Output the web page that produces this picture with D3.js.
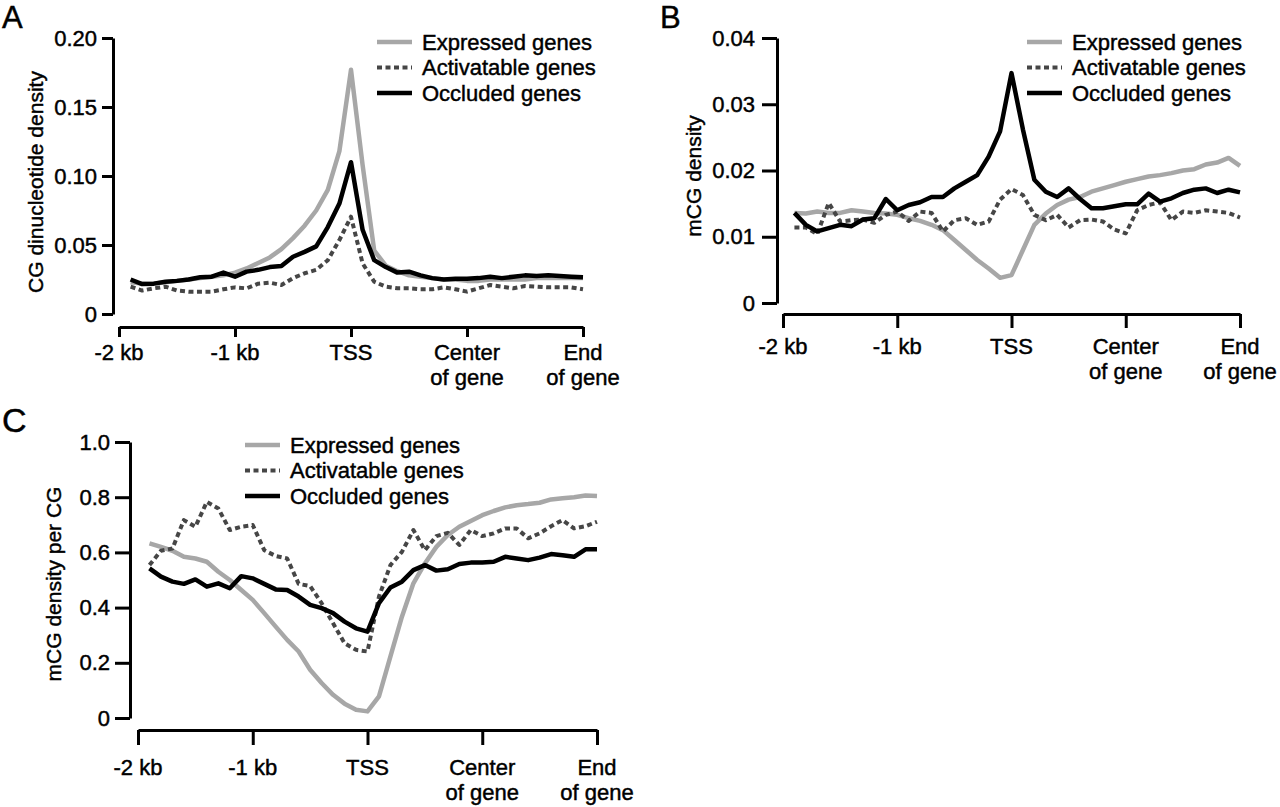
<!DOCTYPE html>
<html>
<head>
<meta charset="utf-8">
<script src="https://cdn.jsdelivr.net/npm/d3@7"></script>
<style>
  body { margin: 0; background: #fff; }
  svg { display: block; font-family: "Liberation Sans", Arial, sans-serif; }
  text { stroke: #000; stroke-width: 0.45px; }
</style>
</head>
<body>
<div id="chart"></div>
<script>
// positions along the meta-gene: -2 kb .. TSS (0) .. center of gene (1) .. end of gene (2)
const positions = [-1.9, -1.8, -1.7, -1.6, -1.5, -1.4, -1.3, -1.2, -1.1, -1.0,
  -0.9, -0.8, -0.7, -0.6, -0.5, -0.4, -0.3, -0.2, -0.1, 0.0,
  0.1, 0.2, 0.3, 0.4, 0.5, 0.6, 0.7, 0.8, 0.9, 1.0,
  1.1, 1.2, 1.3, 1.4, 1.5, 1.6, 1.7, 1.8, 1.9, 2.0];

const xTickValues = [-2, -1, 0, 1, 2];
const xTickLabels = [["-2 kb"], ["-1 kb"], ["TSS"], ["Center", "of gene"], ["End", "of gene"]];

const seriesNames = ["Expressed genes", "Activatable genes", "Occluded genes"];

// A: CG dinucleotide density
const cgExpressed = [0.023, 0.022, 0.022, 0.023, 0.024, 0.025, 0.026, 0.027, 0.028, 0.030,
  0.033, 0.037, 0.041, 0.047, 0.055, 0.064, 0.075, 0.090, 0.118, 0.177,
  0.108, 0.046, 0.035, 0.031, 0.028, 0.027, 0.026, 0.025, 0.025, 0.024,
  0.024, 0.025, 0.025, 0.025, 0.025, 0.026, 0.026, 0.026, 0.026, 0.026];
const cgActivatable = [0.0198, 0.017, 0.0186, 0.0198, 0.017, 0.0162, 0.0162, 0.0162, 0.0179, 0.0193,
  0.0186, 0.022, 0.0227, 0.021, 0.026, 0.0295, 0.032, 0.039, 0.0536, 0.0705,
  0.0367, 0.0234, 0.0198, 0.0186, 0.0186, 0.0179, 0.0179, 0.0193, 0.0179, 0.0162,
  0.0186, 0.021, 0.0198, 0.0186, 0.0203, 0.0198, 0.0193, 0.0193, 0.0193, 0.0179];
const cgOccluded = [0.025, 0.0217, 0.022, 0.0234, 0.024, 0.025, 0.0266, 0.027, 0.030, 0.027,
  0.0307, 0.032, 0.034, 0.0348, 0.0415, 0.045, 0.049, 0.063, 0.080, 0.110,
  0.061, 0.039, 0.034, 0.030, 0.0307, 0.028, 0.026, 0.025, 0.0256, 0.0256,
  0.026, 0.027, 0.026, 0.027, 0.028, 0.0275, 0.028, 0.0275, 0.027, 0.0266];
const cgTickValues = [0, 0.05, 0.10, 0.15, 0.20];
const cgTickLabels = ["0", "0.05", "0.10", "0.15", "0.20"];

// B: mCG density
const mcgExpressed = [0.0136, 0.0135, 0.0138, 0.0136, 0.0136, 0.014, 0.0138, 0.0136, 0.0135, 0.0133,
  0.0128, 0.0124, 0.0118, 0.011, 0.0095, 0.008, 0.0065, 0.0052, 0.0038, 0.0042,
  0.008, 0.0118, 0.0135, 0.0148, 0.0156, 0.016, 0.0168, 0.0173, 0.0178, 0.0183,
  0.0187, 0.0191, 0.0193, 0.0196, 0.020, 0.0202, 0.0209, 0.0212, 0.0219, 0.0207];
const mcgActivatable = [0.0114, 0.0114, 0.0104, 0.0151, 0.0123, 0.0125, 0.0126, 0.0121, 0.0133, 0.0138,
  0.0124, 0.0138, 0.0136, 0.0108, 0.0125, 0.0128, 0.0118, 0.0123, 0.0156, 0.0172,
  0.0163, 0.0133, 0.0125, 0.0133, 0.0114, 0.0125, 0.0126, 0.0123, 0.0111, 0.0105,
  0.014, 0.0148, 0.0152, 0.0125, 0.0138, 0.0136, 0.014, 0.0138, 0.0136, 0.0129];
const mcgOccluded = [0.0136, 0.0118, 0.0108, 0.0113, 0.0118, 0.0116, 0.0126, 0.0128, 0.0157, 0.014,
  0.0148, 0.0152, 0.016, 0.016, 0.0173, 0.0183, 0.0193, 0.0221, 0.0259, 0.0347,
  0.0262, 0.0186, 0.0168, 0.016, 0.0173, 0.0157, 0.0143, 0.0143, 0.0146, 0.0149,
  0.0149, 0.0165, 0.0153, 0.0158, 0.0166, 0.0171, 0.0173, 0.0166, 0.0171, 0.0167];
const mcgTickValues = [0, 0.01, 0.02, 0.03, 0.04];
const mcgTickLabels = ["0", "0.01", "0.02", "0.03", "0.04"];

// C: mCG density per CG
const ratioExpressed = [0.633, 0.62, 0.606, 0.584, 0.578, 0.566, 0.53, 0.50, 0.464, 0.428,
  0.38, 0.331, 0.283, 0.241, 0.175, 0.127, 0.084, 0.052, 0.030, 0.024,
  0.078, 0.223, 0.367, 0.488, 0.56, 0.62, 0.663, 0.693, 0.714, 0.735,
  0.75, 0.763, 0.771, 0.775, 0.78, 0.792, 0.796, 0.80, 0.806, 0.804];
const ratioActivatable = [0.554, 0.606, 0.614, 0.717, 0.693, 0.783, 0.759, 0.681, 0.693, 0.699,
  0.608, 0.587, 0.578, 0.486, 0.478, 0.416, 0.343, 0.271, 0.247, 0.241,
  0.44, 0.554, 0.602, 0.681, 0.608, 0.659, 0.671, 0.627, 0.681, 0.659,
  0.669, 0.687, 0.687, 0.651, 0.669, 0.695, 0.717, 0.687, 0.695, 0.711];
const ratioOccluded = [0.542, 0.512, 0.494, 0.486, 0.502, 0.476, 0.488, 0.47, 0.514, 0.506,
  0.486, 0.466, 0.464, 0.44, 0.41, 0.398, 0.38, 0.349, 0.325, 0.313,
  0.416, 0.473, 0.494, 0.536, 0.554, 0.534, 0.539, 0.558, 0.563, 0.563,
  0.566, 0.584, 0.578, 0.572, 0.581, 0.594, 0.59, 0.584, 0.611, 0.611];
const ratioTickValues = [0, 0.2, 0.4, 0.6, 0.8, 1.0];
const ratioTickLabels = ["0", "0.2", "0.4", "0.6", "0.8", "1.0"];

const lineStyles = [
  { color: "#a7a7a7", width: 4.5, dash: null },
  { color: "#464646", width: 4, dash: "5,3.5" },
  { color: "#000000", width: 4.5, dash: null }
];

const panels = [
  { letter: "A", letterX: 2, letterY: 28, letterSize: 31,
    x0: 119, x1: 583, xAxisY: 327, xTick: 10, xLabelDy: 33,
    yAxisX: 113, yTop: 38, yBottom: 314, yMax: 0.20, yTick: 11, yPad: 5,
    yTicks: cgTickValues, yLabels: cgTickLabels,
    yTitle: "CG dinucleotide density", yTitleX: 36, yTitleY: 182,
    legX: 377, legY: 42,
    data: [cgExpressed, cgActivatable, cgOccluded] },
  { letter: "B", letterX: 660, letterY: 28, letterSize: 31,
    x0: 783, x1: 1240, xAxisY: 314, xTick: 14, xLabelDy: 40,
    yAxisX: 777, yTop: 38, yBottom: 303, yMax: 0.04, yTick: 15, yPad: 7,
    yTicks: mcgTickValues, yLabels: mcgTickLabels,
    yTitle: "mCG density", yTitleX: 694, yTitleY: 176,
    legX: 1027, legY: 42,
    data: [mcgExpressed, mcgActivatable, mcgOccluded] },
  { letter: "C", letterX: 2, letterY: 432, letterSize: 34,
    x0: 138, x1: 597, xAxisY: 730, xTick: 15, xLabelDy: 45,
    yAxisX: 130, yTop: 442, yBottom: 718, yMax: 1.0, yTick: 15, yPad: 5,
    yTicks: ratioTickValues, yLabels: ratioTickLabels,
    yTitle: "mCG density per CG", yTitleX: 54, yTitleY: 584,
    legX: 245, legY: 445,
    data: [ratioExpressed, ratioActivatable, ratioOccluded] }
];

const svg = d3.select("#chart").append("svg")
  .attr("width", 1280)
  .attr("height", 807);

panels.forEach(p => {
  const x = d3.scaleLinear().domain([-2, 2]).range([p.x0, p.x1]);
  const y = d3.scaleLinear().domain([0, p.yMax]).range([p.yBottom, p.yTop]);

  const g = svg.append("g");

  g.append("text")
    .attr("x", p.letterX)
    .attr("y", p.letterY)
    .attr("font-size", p.letterSize)
    .text(p.letter);

  // y axis
  const yAxis = g.append("g")
    .attr("transform", `translate(${p.yAxisX},0)`)
    .call(d3.axisLeft(y)
      .tickValues(p.yTicks)
      .tickFormat((d, i) => p.yLabels[i])
      .tickSize(p.yTick)
      .tickSizeOuter(0)
      .tickPadding(p.yPad));
  yAxis.selectAll("path, line").attr("stroke", "#000").attr("stroke-width", 3);
  yAxis.selectAll("text").attr("font-size", 22).attr("fill", "#000")
    .attr("font-family", "Liberation Sans, Arial, sans-serif");

  // x axis (labels drawn separately, two lines)
  const xAxis = g.append("g")
    .attr("transform", `translate(0,${p.xAxisY})`)
    .call(d3.axisBottom(x)
      .tickValues(xTickValues)
      .tickFormat("")
      .tickSize(p.xTick)
      .tickSizeOuter(0));
  xAxis.selectAll("path, line").attr("stroke", "#000").attr("stroke-width", 3);

  g.append("g")
    .selectAll("text")
    .data(xTickValues)
    .join("text")
    .attr("x", d => x(d))
    .attr("y", p.xAxisY + p.xLabelDy)
    .attr("text-anchor", "middle")
    .attr("font-size", 22)
    .each(function (d, i) {
      d3.select(this).selectAll("tspan")
        .data(xTickLabels[i])
        .join("tspan")
        .attr("x", x(d))
        .attr("dy", (t, j) => j === 0 ? 0 : 25)
        .text(t => t);
    });

  // y title
  g.append("text")
    .attr("transform", `translate(${p.yTitleX},${p.yTitleY}) rotate(-90)`)
    .attr("text-anchor", "middle")
    .attr("dy", "0.35em")
    .attr("font-size", 21)
    .text(p.yTitle);

  // lines
  const line = d3.line()
    .x((d, i) => x(positions[i]))
    .y(d => y(d));

  p.data.forEach((values, k) => {
    const s = lineStyles[k];
    g.append("path")
      .datum(values)
      .attr("fill", "none")
      .attr("stroke", s.color)
      .attr("stroke-width", s.width)
      .attr("stroke-linejoin", "round")
      .attr("stroke-dasharray", s.dash)
      .attr("d", line);
  });

  // legend
  const leg = g.append("g")
    .selectAll("g")
    .data(seriesNames)
    .join("g")
    .attr("transform", (d, i) => `translate(${p.legX},${p.legY + i * 25.5})`);
  leg.append("line")
    .attr("x1", 0).attr("x2", 35)
    .attr("stroke", (d, i) => lineStyles[i].color)
    .attr("stroke-width", (d, i) => lineStyles[i].width)
    .attr("stroke-dasharray", (d, i) => lineStyles[i].dash);
  leg.append("text")
    .attr("x", 45)
    .attr("dy", "0.35em")
    .attr("font-size", 22)
    .text(d => d);
});
</script>
</body>
</html>
